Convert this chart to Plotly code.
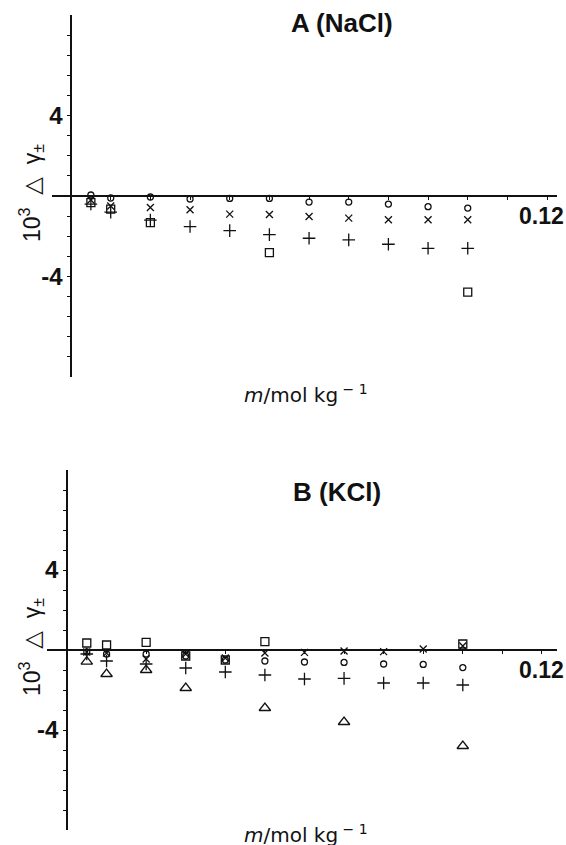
import plotly.graph_objects as go

W, H = 566, 845

# ---------------- data ----------------
m_all = [0.005, 0.01, 0.02, 0.03, 0.04, 0.05, 0.06, 0.07, 0.08, 0.09, 0.10]

# Panel A (NaCl)
a_circle = [0.05, -0.1, -0.05, -0.15, -0.12, -0.12, -0.3, -0.3, -0.4, -0.53, -0.6]
a_cross = [-0.2, -0.5, -0.57, -0.68, -0.9, -0.92, -1.02, -1.1, -1.18, -1.18, -1.18]
a_plus = [-0.4, -0.8, -1.2, -1.52, -1.72, -1.92, -2.1, -2.18, -2.4, -2.6, -2.6]
a_square_m = [0.005, 0.01, 0.02, 0.05, 0.10]
a_square = [-0.33, -0.65, -1.32, -2.82, -4.78]

# Panel B (KCl)
b_circle = [-0.1, -0.2, -0.2, -0.3, -0.5, -0.55, -0.6, -0.62, -0.7, -0.72, -0.88]
b_cross = [-0.1, -0.15, -0.45, -0.2, -0.4, -0.15, -0.12, -0.05, -0.08, 0.05, 0.2]
b_plus = [-0.2, -0.55, -0.7, -0.9, -1.1, -1.25, -1.45, -1.42, -1.65, -1.65, -1.75]
b_square_m = [0.005, 0.01, 0.02, 0.03, 0.04, 0.05, 0.10]
b_square = [0.35, 0.25, 0.38, -0.3, -0.5, 0.42, 0.3]
b_tri_m = [0.005, 0.01, 0.02, 0.03, 0.05, 0.07, 0.10]
b_tri = [-0.58, -1.2, -1.0, -1.9, -2.9, -3.6, -4.8]

x_tickvals = [0.01, 0.02, 0.03, 0.04, 0.05, 0.06, 0.07, 0.08, 0.09, 0.10, 0.11, 0.12]
x_end_label = "0.12"
y_tickvals = list(range(-8, 9))
y_ticktext = ["-4" if v == -4 else ("4" if v == 4 else "") for v in y_tickvals]

# ---------------- layout geometry (pixels) ----------------
panels = {
    "A": dict(xpx=(52, 557), xr=(-0.0048, 0.1225), ypx=(15, 377), title="A (NaCl)",
              title_xy=(342, 23), ytitle_xy=(31, 193), xtitle_xy=(306, 394)),
    "B": dict(xpx=(47, 557), xr=(-0.00505, 0.1238), ypx=(470, 830), title="B (KCl)",
              title_xy=(337, 492), ytitle_xy=(31, 647), xtitle_xy=(306, 834)),
}
yr = (-9, 9)

fig = go.Figure()

BLACK = "#111111"
FONT_BOLD = "Liberation Sans Narrow, Arial Narrow, Liberation Sans, Arial"
FONT = "Liberation Sans, Arial, Helvetica"
FONT_WIDE = "DejaVu Sans, Verdana, sans-serif"

def add_series(xs, ys, symbol, size, xa, ya):
    fig.add_trace(go.Scatter(
        x=xs, y=ys, mode="markers", xaxis=xa, yaxis=ya, cliponaxis=False,
        showlegend=False,
        marker=dict(symbol=symbol, size=size, color=BLACK,
                    line=dict(color=BLACK, width=1.3)),
    ))

add_series(m_all, a_circle, "circle-open", 6, "x", "y")
add_series(m_all, a_cross, "x-thin-open", 7, "x", "y")
add_series(m_all, a_plus, "cross-thin-open", 9, "x", "y")
add_series(a_square_m, a_square, "square-open", 8, "x", "y")

add_series(m_all, b_circle, "circle-open", 6, "x2", "y2")
add_series(m_all, b_cross, "x-thin-open", 7, "x2", "y2")
add_series(m_all, b_plus, "cross-thin-open", 9, "x2", "y2")
add_series(b_square_m, b_square, "square-open", 8, "x2", "y2")
add_series(b_tri_m, b_tri, "triangle-up-open", 10, "x2", "y2")

layout = dict(
    width=W, height=H, autosize=False,
    margin=dict(l=0, r=0, t=0, b=0, pad=0),
    paper_bgcolor="white", plot_bgcolor="white",
    showlegend=False,
    template="none",
)

annotations = []
for i, (key, p) in enumerate(panels.items()):
    sfx = "" if i == 0 else "2"
    x0, x1 = p["xpx"]
    y0, y1 = p["ypx"]
    xdom = [x0 / W, x1 / W]
    ydom = [1 - y1 / H, 1 - y0 / H]
    xr0, xr1 = p["xr"]
    zero_xpx = x0 + (0 - xr0) / (xr1 - xr0) * (x1 - x0)
    zero_ypx = y0 + (yr[1] - 0) / (yr[1] - yr[0]) * (y1 - y0)
    layout["xaxis" + sfx] = dict(
        domain=xdom, range=list(p["xr"]), anchor="free", position=1 - zero_ypx / H,
        automargin=False,
        showgrid=False, zeroline=False, showline=True, linecolor=BLACK, linewidth=1.5,
        ticks="outside", ticklen=3, tickwidth=1, tickcolor=BLACK,
        tickvals=x_tickvals, showticklabels=False,
    )
    layout["yaxis" + sfx] = dict(
        domain=ydom, range=list(yr), anchor="free", position=zero_xpx / W,
        automargin=False,
        showgrid=False, zeroline=False, showline=True, linecolor=BLACK, linewidth=1.5,
        ticks="outside", ticklen=3, tickwidth=1, tickcolor=BLACK,
        tickvals=y_tickvals, ticktext=y_ticktext,
        tickfont=dict(family=FONT_BOLD, size=24, color=BLACK, weight="bold"),
        ticklabelstandoff=0,
    )
    # end-of-axis label "0.12", right aligned to the figure edge, below the axis line
    annotations.append(dict(
        x=1.0, xref="paper", xanchor="right",
        y=0, yref="y" + sfx, yanchor="middle", yshift=-20,
        text="<b>" + x_end_label + "</b>", showarrow=False,
        font=dict(family=FONT_BOLD, size=23, color=BLACK),
    ))
    tx, ty = p["title_xy"]
    annotations.append(dict(
        x=tx / W, y=1 - ty / H, xref="paper", yref="paper", showarrow=False,
        text="<b>" + p["title"] + "</b>", xanchor="center", yanchor="middle",
        font=dict(family=FONT, size=26, color=BLACK),
    ))
    ax, ay = p["ytitle_xy"]
    annotations.append(dict(
        x=ax / W, y=1 - ay / H, xref="paper", yref="paper", showarrow=False,
        text="10<sup>3</sup>  <span style='font-family:DejaVu Sans'>\u25b3</span>  \u03b3<sub>\u00b1</sub>",
        textangle=-90, xanchor="center", yanchor="middle",
        font=dict(family=FONT, size=23, color=BLACK),
    ))
    bx, by = p["xtitle_xy"]
    annotations.append(dict(
        x=bx / W, y=1 - by / H, xref="paper", yref="paper", showarrow=False,
        text="<i>m</i>/mol kg<sup> \u2212 1</sup>", xanchor="center", yanchor="middle",
        font=dict(family=FONT_WIDE, size=20, color=BLACK),
    ))

layout["annotations"] = annotations
fig.update_layout(**layout)
fig.write_html("out.html")
